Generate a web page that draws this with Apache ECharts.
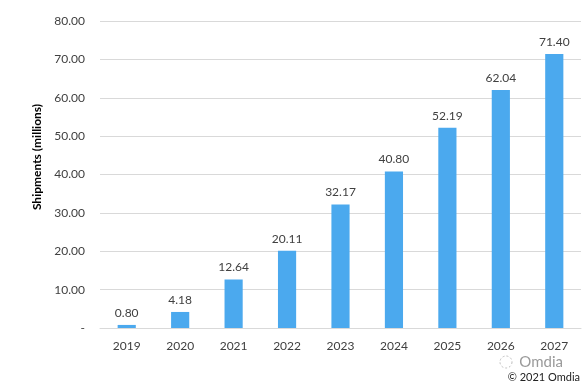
<!DOCTYPE html>
<html><head><meta charset="utf-8">
<script src="https://cdn.jsdelivr.net/npm/echarts@6/dist/echarts.min.js"></script>
<style>html,body{margin:0;padding:0;background:#fff}#c{width:582px;height:386px}</style>
</head><body><div id="c"></div>
<script>
var years = ['2019','2020','2021','2022','2023','2024','2025','2026','2027'];
var shipments = [0.80, 4.18, 12.64, 20.11, 32.17, 40.80, 52.19, 62.04, 71.40];
var yTitle = 'Shipments (millions)';
var chart = echarts.init(document.getElementById('c'), null, {renderer:'canvas'});
var F = 'Lato, "Open Sans", sans-serif';
chart.setOption({
  animation:false,
  grid:{left:100, right:1, top:21, bottom:58},
  xAxis:{type:'category', data:years,
    axisLine:{lineStyle:{color:'#d9d9d9'}}, axisTick:{show:false},
    axisLabel:{color:'#404040', fontFamily:F, fontSize:12, margin:12}},
  yAxis:{type:'value', min:0, max:80, interval:10,
    axisLine:{show:false}, axisTick:{show:false},
    splitLine:{lineStyle:{color:'#d9d9d9'}},
    axisLabel:{color:'#404040', fontFamily:F, fontSize:12, margin:15,
      formatter:function(v){return v===0?'-':v.toFixed(2);}}},
  series:[{type:'bar', data:shipments, barWidth:'34%',
    itemStyle:{color:'#4BA9EE'},
    label:{show:true, position:'top', distance:6, color:'#404040', fontFamily:F, fontSize:12,
      formatter:function(p){return p.value.toFixed(2);}}}],
  graphic:[
    {type:'text', x:37, y:157, rotation:Math.PI/2,
      style:{text:yTitle, font:'bold 12px '+F, fill:'#000', align:'center', verticalAlign:'middle'}},
    {type:'text', right:19, top:355, style:{text:'Omdia', font:'15px '+F, fill:'#9a9a9a'}},
    {type:'circle', shape:{cx:506, cy:362, r:6}, style:{fill:'none', stroke:'#bbb', lineWidth:1, lineDash:[2,2]}},
    {type:'text', right:2, top:372, style:{text:'© 2021 Omdia', font:'11px '+F, fill:'#222'}}
  ]
});
</script></body></html>
